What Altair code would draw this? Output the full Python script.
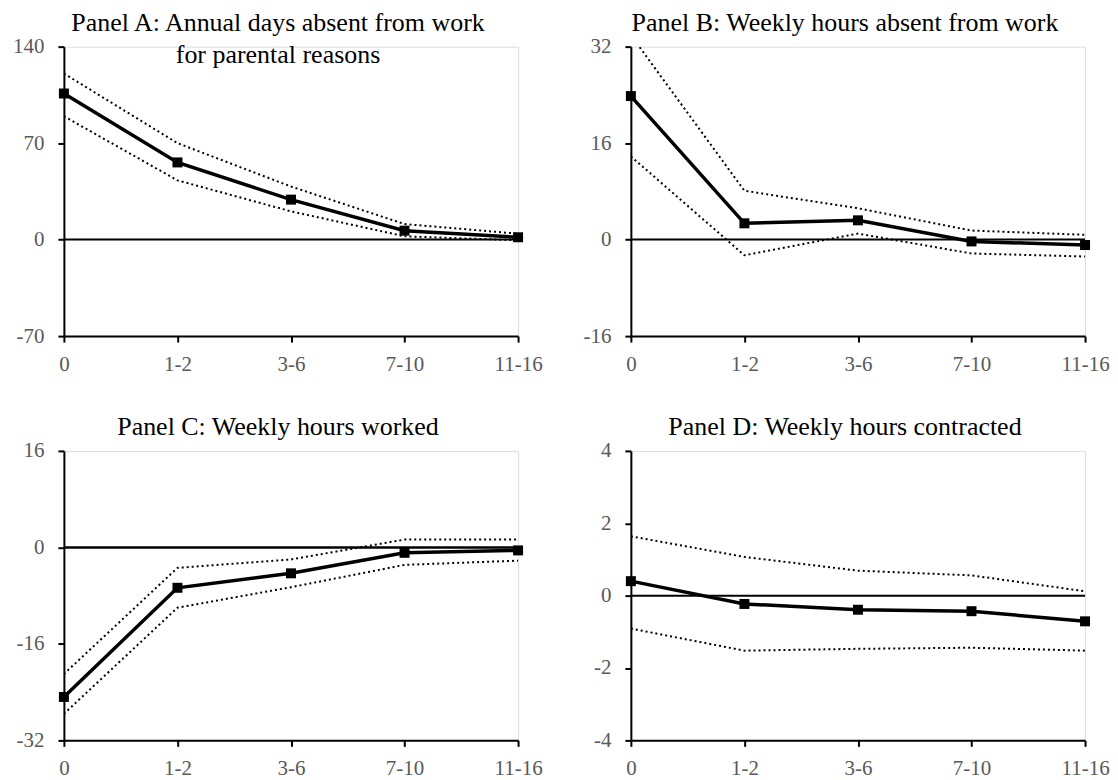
import altair as alt
import pandas as pd

cats = ["0", "1-2", "3-6", "7-10", "11-16"]

a_est = [106.0, 56.0, 29.0, 6.5, 1.7]
a_hi = [120.5, 70.0, 38.5, 11.3, 4.3]
a_lo = [89.5, 43.0, 20.5, 2.4, -0.5]

b_est = [23.8, 2.7, 3.2, -0.3, -0.9]
b_hi = [33.9, 8.1, 5.2, 1.5, 0.8]
b_lo = [13.8, -2.6, 1.0, -2.3, -2.8]

c_est = [-24.8, -6.7, -4.3, -0.9, -0.5]
c_hi = [-21.0, -3.4, -2.0, 1.3, 1.3]
c_lo = [-27.6, -10.0, -6.6, -2.9, -2.2]

d_est = [0.40, -0.23, -0.39, -0.43, -0.71]
d_hi = [1.64, 1.07, 0.69, 0.56, 0.12]
d_lo = [-0.91, -1.52, -1.47, -1.44, -1.52]

titles = [
    ["Panel A: Annual days absent from work", "for parental reasons"],
    "Panel B: Weekly hours absent from work",
    "Panel C: Weekly hours worked",
    "Panel D: Weekly hours contracted",
]
domains = [[-70, 140], [-16, 32], [-32, 16], [-4, 4]]
ticks = [[-70, 0, 70, 140], [-16, 0, 16, 32], [-32, -16, 0, 16], [-4, -2, 0, 2, 4]]

FONT = "Liberation Serif"
W, H = 455, 290


def panel(title, est, hi, lo, dom, tvals, zero_w, dy, lh=None):
    df = pd.DataFrame({"cat": cats, "est": est, "hi": hi, "lo": lo})
    xenc = alt.X(
        "cat:N",
        sort=cats,
        scale=alt.Scale(type="point", padding=0),
        axis=alt.Axis(
            title=None, labelAngle=0, orient="bottom", domainColor="black",
            domainWidth=2, tickColor="black", tickWidth=2, tickSize=6,
            labelColor="#595959", labelFontSize=21, labelFont=FONT,
            labelPadding=11, grid=False,
        ),
    )
    ysc = alt.Scale(domain=dom, nice=False, zero=False)
    yaxis = alt.Axis(
        title=None, values=tvals, domainColor="black", domainWidth=2,
        tickColor="black", tickWidth=2, tickSize=6, labelColor="#595959",
        labelFontSize=21, labelFont=FONT, labelPadding=14, grid=False,
        labelExpr="'' + datum.value", minExtent=55, maxExtent=55,
    )
    base = alt.Chart(df).encode(x=xenc)
    hi_l = base.mark_line(color="black", strokeWidth=2, strokeDash=[2, 3], clip=True).encode(
        y=alt.Y("hi:Q", scale=ysc, axis=yaxis)
    )
    lo_l = base.mark_line(color="black", strokeWidth=2, strokeDash=[2, 3], clip=True).encode(
        y=alt.Y("lo:Q", scale=ysc)
    )
    zero = alt.Chart(pd.DataFrame({"z": [0]})).mark_rule(color="black", strokeWidth=zero_w).encode(
        y=alt.Y("z:Q", scale=ysc)
    )
    est_l = base.mark_line(
        color="black", strokeWidth=3.5,
        point=alt.OverlayMarkDef(shape="square", size=100, filled=True, color="black", opacity=1),
    ).encode(y=alt.Y("est:Q", scale=ysc))
    tp = dict(fontSize=26, font=FONT, fontWeight="normal", color="black",
              dx=-13, offset=0, dy=dy)
    if lh is not None:
        tp["lineHeight"] = lh
    return alt.layer(hi_l, lo_l, zero, est_l).properties(
        width=W, height=H, title=alt.TitleParams(title, **tp),
    )


pa = panel(titles[0], a_est, a_hi, a_lo, domains[0], ticks[0], 2, 32, 32)
pb = panel(titles[1], b_est, b_hi, b_lo, domains[1], ticks[1], 2, 0)
pc = panel(titles[2], c_est, c_hi, c_lo, domains[2], ticks[2], 2.5, 0)
pd_ = panel(titles[3], d_est, d_hi, d_lo, domains[3], ticks[3], 2, 0)

chart = alt.vconcat(
    alt.hconcat(pa, pb, spacing=32),
    alt.hconcat(pc, pd_, spacing=32),
    spacing=38,
).configure_view(stroke=None).configure(font=FONT).properties(padding=0)

chart.save("out.html", embed_options={"renderer": "svg", "actions": False})
